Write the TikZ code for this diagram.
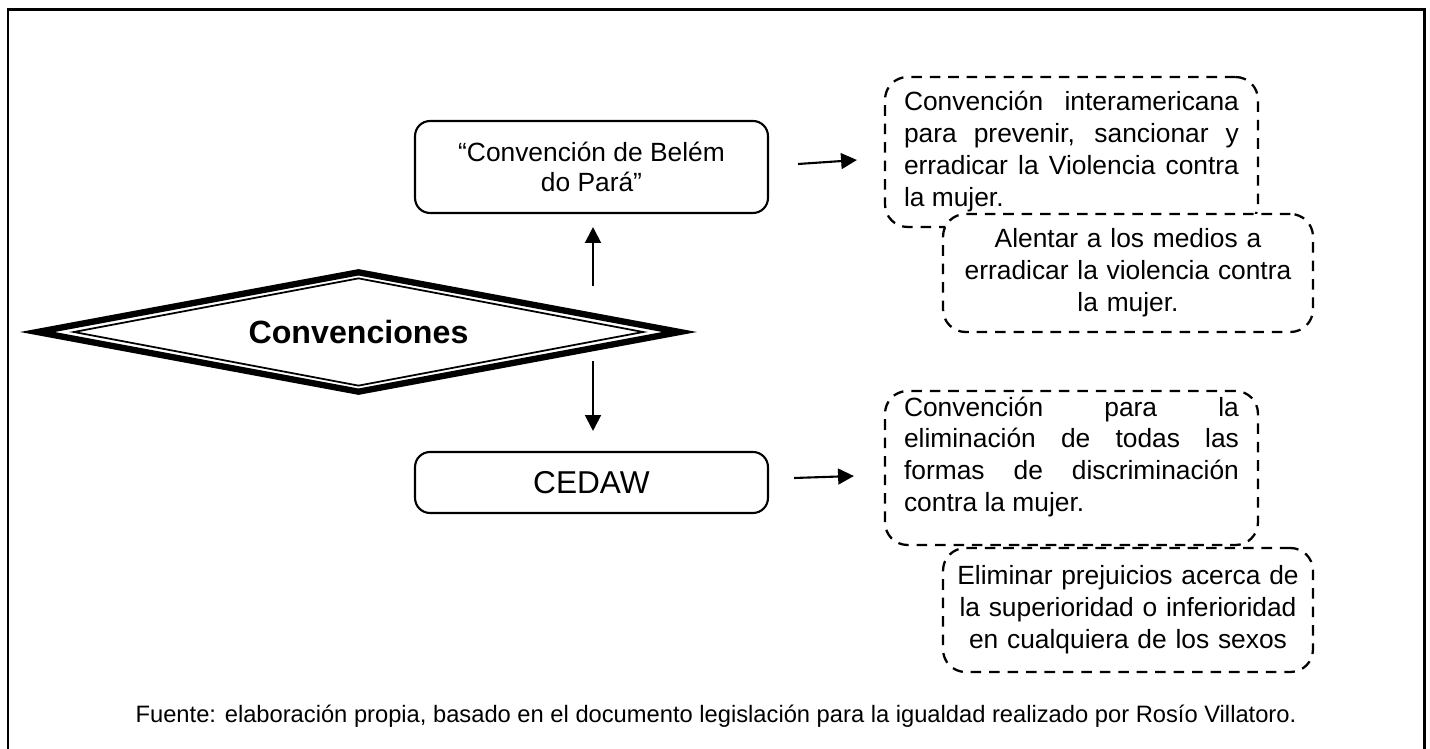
\documentclass[tikz,border=0pt]{standalone}
\usepackage{fontspec}
\setmainfont{Liberation Sans}
\usetikzlibrary{arrows.meta,shapes.geometric,calc}

\begin{document}
\begin{tikzpicture}[x=0.02cm,y=-0.02cm,
    solidbox/.style={draw,line width=1.2pt,rounded corners=0.3cm,inner sep=0pt,align=center,font=\fontsize{15}{17}\selectfont},
    dashbox/.style={draw,fill=white,dash pattern=on 6pt off 4.5pt,line width=1.3pt,rounded corners=0.45cm,inner sep=0pt,font=\fontsize{15}{18.2}\selectfont},
    arr/.style={line width=1.2pt,-{Triangle[length=9pt,width=9pt]}}]
    \useasboundingbox (0,0) rectangle (1430,749);
    \draw [line width=1.7pt] (8,760) |- (1424,10) -- (1424,760);
    % rombo central
    \node [diamond,draw,line width=3.6pt,aspect=5.3,minimum width=12.9cm,minimum height=2.44cm,inner sep=0pt,font=\fontsize{18.3}{21}\selectfont\bfseries] (conv) at (358.5,332) {Convenciones};
    \node [diamond,draw,line width=1pt,aspect=5.3,minimum width=11.4cm,minimum height=2.16cm,inner sep=0pt] (convin) at (conv) {};
    \node [solidbox,minimum width=7.06cm,minimum height=1.84cm] (belem) at (591.5,167) {“Convención de Belém\\do Pará”};
    \node [solidbox,minimum width=7.06cm,minimum height=1.22cm,font=\fontsize{18}{20}\selectfont] (cedaw) at (591.5,482.5) {CEDAW};
    \node [dashbox,minimum width=7.46cm,minimum height=3cm,text width=6.7cm,align=justify] (bel1) at (1071.5,152) {Convención interamericana\linebreak para prevenir, sancionar y\linebreak erradicar la Violencia contra\linebreak la mujer.};
    \node [dashbox,minimum width=7.4cm,minimum height=2.36cm,text width=7.2cm,align=center] (bel2) at (1128,273) {Alentar a los medios a\\erradicar la violencia contra\\la mujer.};
    \node [dashbox,minimum width=7.46cm,minimum height=3.08cm,text width=6.7cm,align=justify] (ced1) at (1071.5,468) {Convención para la\linebreak eliminación de todas las\linebreak formas de discriminación\linebreak contra la mujer.\par\nointerlineskip\hbox{\rule{0pt}{0.44cm}}};
    \node [dashbox,minimum width=7.4cm,minimum height=2.48cm,text width=7.2cm,align=center] (ced2) at (1128,610) {Eliminar prejuicios acerca de\\la superioridad o inferioridad\\en cualquiera de los sexos};
    \draw [arr] ($(belem.south)+(1.5,72)$) -- ($(belem.south)+(1.5,13)$);
    \draw [arr] ($(cedaw.north)+(1.5,-90)$) -- ($(cedaw.north)+(1.5,-20)$);
    \draw [arr] ($(belem.east)+(29,-3)$) -- ($(bel1.west)+(-27,8)$);
    \draw [arr] ($(cedaw.east)+(25,-4.5)$) -- ($(ced1.west)+(-30,8)$);
    \node [font=\fontsize{13.5}{16}\selectfont] (fuente) at (716,716) {Fuente: elaboración propia, basado en el documento legislación para la igualdad realizado por Rosío Villatoro.};
\end{tikzpicture}
\end{document}
